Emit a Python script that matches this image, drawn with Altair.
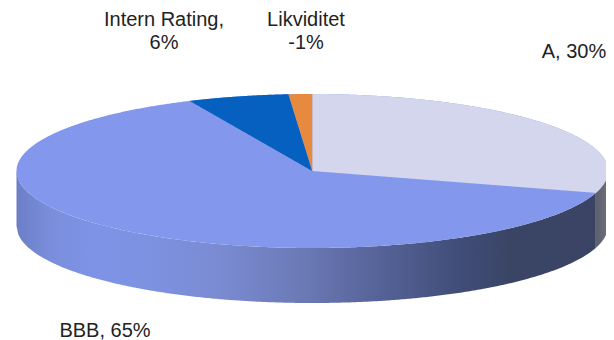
import numpy as np
import pandas as pd
import altair as alt

labels = ["A, 30%", "BBB, 65%", "Intern Rating,\n6%", "Likviditet\n-1%"]
values = [30, 64.5, 5.6, -1.3]
colors = ["#d3d6ec", "#8398ec", "#0560c0", "#e58a3f"]
label_x = [574, 105, 164, 306]
label_y = [52, 331, 20, 20]

W, H = 598, 332
CX, CY, RX, RY, DEPTH = 312.25, 171, 295.75, 77, 55
x_scale = alt.Scale(domain=[8, 8 + W], nice=False, zero=False)
y_scale = alt.Scale(domain=[8 + H, 8], nice=False, zero=False)
X = lambda f: alt.X(f, type="quantitative", scale=x_scale, axis=None)
Y = lambda f: alt.Y(f, type="quantitative", scale=y_scale, axis=None)

mags = np.abs(values).astype(float)
edges = np.concatenate([[0], np.cumsum(mags)]) / mags.sum() * 2 * np.pi


def sector_frame(t0, t1):
    t = np.linspace(t0, t1, 200)
    px = np.concatenate([[CX], CX + RX * np.sin(t), [CX]])
    py = np.concatenate([[CY], CY - RY * np.cos(t), [CY]])
    xs = np.unique(np.round(np.concatenate([px, np.linspace(px.min(), px.max(), 300)]), 3))
    rows = []
    for x in xs:
        hits = []
        for i in range(len(px) - 1):
            a, b = px[i], px[i + 1]
            if min(a, b) - 1e-3 <= x <= max(a, b) + 1e-3:
                if abs(a - b) < 1e-9:
                    hits += [py[i], py[i + 1]]
                else:
                    hits.append(py[i] + (py[i + 1] - py[i]) * (x - a) / (b - a))
        rows.append({"x": x, "y": min(hits), "y2": max(hits)})
    return pd.DataFrame(rows)


def rim(x0, x1):
    x = np.linspace(x0, x1, 300)
    low = CY + RY * np.sqrt(np.clip(1 - ((x - CX) / RX) ** 2, 0, 1))
    return pd.DataFrame({"x": x, "y": low, "y2": low + DEPTH})


def grad(stops):
    return alt.LinearGradient(
        gradient="linear", x1=0, x2=1, y1=0, y2=0,
        stops=[alt.GradientStop(color=c, offset=o) for o, c in stops],
    )


split = CX + RX * np.sin(edges[1])
wall_main = alt.Chart(rim(CX - RX, split)).mark_area(
    fill=grad([(0, "#6c7ec6"), (0.06, "#7a8edc"), (0.13, "#7e93e6"), (0.22, "#7e92e2"),
               (0.35, "#7a8bd2"), (0.5, "#6a78b4"), (0.65, "#525f92"), (0.78, "#3f4b74"),
               (0.85, "#3a4566"), (1, "#3a4364")])
).encode(x=X("x"), y=Y("y"), y2="y2")
wall_a = alt.Chart(rim(split, CX + RX)).mark_area(
    fill=grad([(0, "#5b5e6e"), (1, "#6f7178")])
).encode(x=X("x"), y=Y("y"), y2="y2")

t = np.linspace(-np.pi / 2, np.pi / 2, 600)
top_x = CX + RX * np.sin(t)
top_half = RY * np.cos(t)
top_df = pd.DataFrame({"x": top_x, "y": CY - top_half, "y2": CY + top_half})
top = alt.Chart(top_df).mark_area(color=colors[1]).encode(x=X("x"), y=Y("y"), y2="y2")

sectors = []
for i in (0, 2, 3):
    sectors.append(
        alt.Chart(sector_frame(edges[i], edges[i + 1])).mark_area(color=colors[i]).encode(
            x=X("x"), y=Y("y"), y2="y2"
        )
    )

text_df = pd.DataFrame({"t": labels, "x": label_x, "y": label_y})
text = alt.Chart(text_df).mark_text(
    font="Liberation Sans", fontSize=20, color="#222222", lineBreak="\n", lineHeight=23,
    align="center", baseline="middle",
).encode(x=X("x"), y=Y("y"), text="t:N")

chart = alt.layer(wall_main, wall_a, top, *sectors, text).properties(
    width=W, height=H, padding=0, background="white",
    autosize=alt.AutoSizeParams(type="none"),
).configure_view(stroke=None)

chart.save("out.html", embed_options={"renderer": "svg", "actions": False})
